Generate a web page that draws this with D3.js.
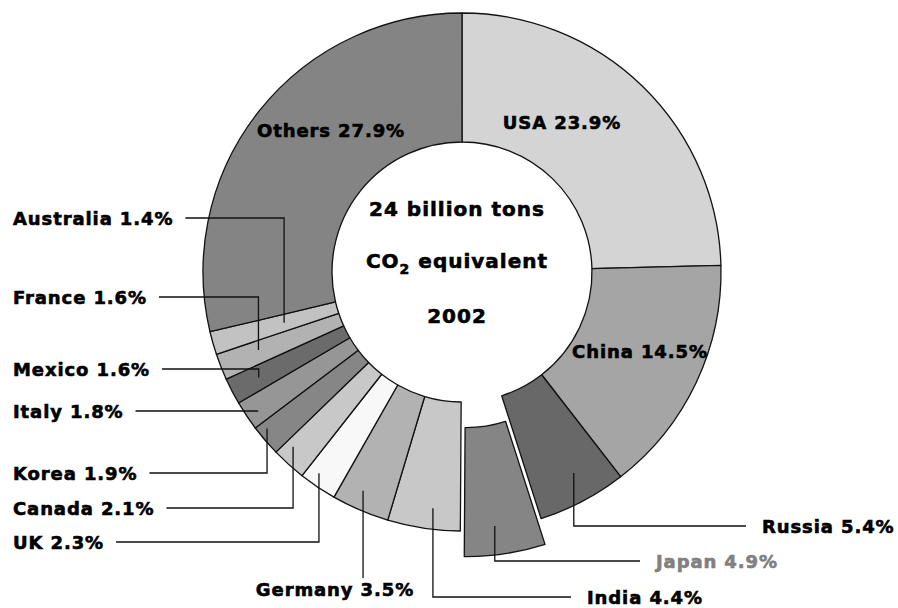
<!DOCTYPE html>
<html>
<head>
<meta charset="utf-8">
<script src="https://cdn.jsdelivr.net/npm/d3@7"></script>
<style>
  body { margin: 0; background: #fff; }
  svg { display: block; }
  text { font-family: "DejaVu Sans", sans-serif; font-weight: bold; stroke-width: 0.6px; }
</style>
</head>
<body>
<svg></svg>
<script>
const size = {w: 898, h: 608};
const center = {x: 462, y: 272};
const radius = {inner: 130, outer: 259};

// data (shares in %)
const countries = ['USA', 'China', 'Russia', 'Japan', 'India', 'Germany', 'UK',
    'Canada', 'Korea', 'Italy', 'Mexico', 'France', 'Australia', 'Others'];
const shares = [23.9, 14.5, 5.4, 4.9, 4.4, 3.5, 2.3, 2.1, 1.9, 1.8, 1.6, 1.6, 1.4, 27.9];
const centerLines = ['24 billion tons', 'CO2 equivalent', '2002'];

// styles
const fills = ['#d4d4d4', '#a5a5a5', '#686868', '#858585', '#c8c8c8', '#b2b2b2', '#f8f8f8',
    '#c8c8c8', '#868686', '#969696', '#6b6b6b', '#b2b2b2', '#c2c2c2', '#848484'];
const exploded = {Japan: 26};

// label layout: kind 'in' = inside the ring, 'left' = text left then leader,
// 'right' = leader then text, 'below' = text under a vertical leader
const labelLayout = {
    USA:       {kind: 'in', x: 562, y: 129},
    China:     {kind: 'in', x: 640, y: 358},
    Others:    {kind: 'in', x: 331, y: 137},
    Australia: {kind: 'left', ly: 218, r: 185, da: 0},
    France:    {kind: 'left', ly: 297, r: 218, da: 0.5},
    Mexico:    {kind: 'left', ly: 369, r: 229, da: 0},
    Italy:     {kind: 'left', ly: 411, r: 247, da: -0.5},
    Korea:     {kind: 'left', ly: 473, r: 250, da: 1.8},
    Canada:    {kind: 'left', ly: 508, r: 243, da: 2},
    UK:        {kind: 'left', ly: 542, r: 247, da: 1.5},
    Germany:   {kind: 'below', ly: 578, r: 240, da: 1.2, tx: 335},
    India:     {kind: 'right', ly: 597, r: 238, da: -1.5, tx: 587},
    Japan:     {kind: 'right', ly: 561, r: 230, da: 1.5, tx: 656, color: '#808080'},
    Russia:    {kind: 'right', ly: 526, r: 230, da: -1.3, tx: 762}
};

const svg = d3.select('svg')
    .attr('width', size.w)
    .attr('height', size.h);

const rows = countries.map((c, i) => ({country: c, share: shares[i], fill: fills[i]}));

const pie = d3.pie()
    .sort(null)
    .value(d => d.share);

const arc = d3.arc()
    .innerRadius(radius.inner)
    .outerRadius(radius.outer);

const arcs = pie(rows);

const ringG = svg.append('g')
    .attr('transform', `translate(${center.x},${center.y})`);

function offsetOf(d) {
    let off = exploded[d.data.country] || 0;
    let mid = (d.startAngle + d.endAngle) / 2;
    return [off * Math.sin(mid), -off * Math.cos(mid)];
}

ringG.selectAll('path')
    .data(arcs)
    .join('path')
    .attr('d', arc)
    .attr('transform', d => 'translate(' + offsetOf(d) + ')')
    .attr('fill', d => d.data.fill)
    .attr('stroke', '#111')
    .attr('stroke-width', 1.3)
    .attr('stroke-linejoin', 'round');

// labels and leader lines
const labelG = svg.append('g');
const fontSize = 18;

arcs.forEach(d => {
    let name = d.data.country;
    let lay = labelLayout[name];
    let label = name + ' ' + d.data.share.toFixed(1) + '%';
    let color = lay.color || '#000';

    if (lay.kind === 'in') {
        labelG.append('text')
            .attr('x', lay.x)
            .attr('y', lay.y)
            .attr('text-anchor', 'middle')
            .style('font-size', fontSize + 'px')
            .style('letter-spacing', '0.9px')
            .attr('fill', color)
            .attr('stroke', color)
            .text(label);
        return;
    }

    // anchor point inside the slice
    let mid = (d.startAngle + d.endAngle) / 2 + (lay.da || 0) * Math.PI / 180;
    let off = offsetOf(d);
    let ax = center.x + off[0] + lay.r * Math.sin(mid);
    let ay = center.y + off[1] - lay.r * Math.cos(mid);

    let t = labelG.append('text')
        .style('font-size', fontSize + 'px')
        .style('letter-spacing', '0.9px')
        .attr('fill', color)
        .attr('stroke', color)
        .text(label);

    let path;
    if (lay.kind === 'left') {
        t.attr('x', 13).attr('y', lay.ly + 7);
        let end = 13 + t.node().getComputedTextLength() + 12;
        path = `M${end},${lay.ly}H${ax}V${ay}`;
    } else if (lay.kind === 'right') {
        t.attr('x', lay.tx).attr('y', lay.ly + 7);
        path = `M${ax},${ay}V${lay.ly}H${lay.tx - 16}`;
    } else {
        t.attr('x', lay.tx).attr('y', lay.ly + 18).attr('text-anchor', 'middle');
        path = `M${ax},${ay}V${lay.ly}`;
    }

    labelG.append('path')
        .attr('d', path)
        .attr('fill', 'none')
        .attr('stroke', '#111')
        .attr('stroke-width', 1.3);
});

// centre text
const centerG = svg.append('g')
    .attr('text-anchor', 'middle')
    .attr('fill', '#000')
    .attr('stroke', '#000')
    .style('font-size', '20px')
    .style('letter-spacing', '1px');

const lineY = [216, 268, 323];

centerG.append('text')
    .attr('x', center.x - 5)
    .attr('y', lineY[0])
    .text(centerLines[0]);

let co2 = centerG.append('text')
    .attr('x', center.x - 5)
    .attr('y', lineY[1]);
co2.append('tspan').text('CO');
co2.append('tspan')
    .attr('dy', 6)
    .style('font-size', '14px')
    .text('2');
co2.append('tspan')
    .attr('dy', -6)
    .text(' ' + centerLines[1].slice(4));

centerG.append('text')
    .attr('x', center.x - 5)
    .attr('y', lineY[2])
    .text(centerLines[2]);
</script>
</body>
</html>
